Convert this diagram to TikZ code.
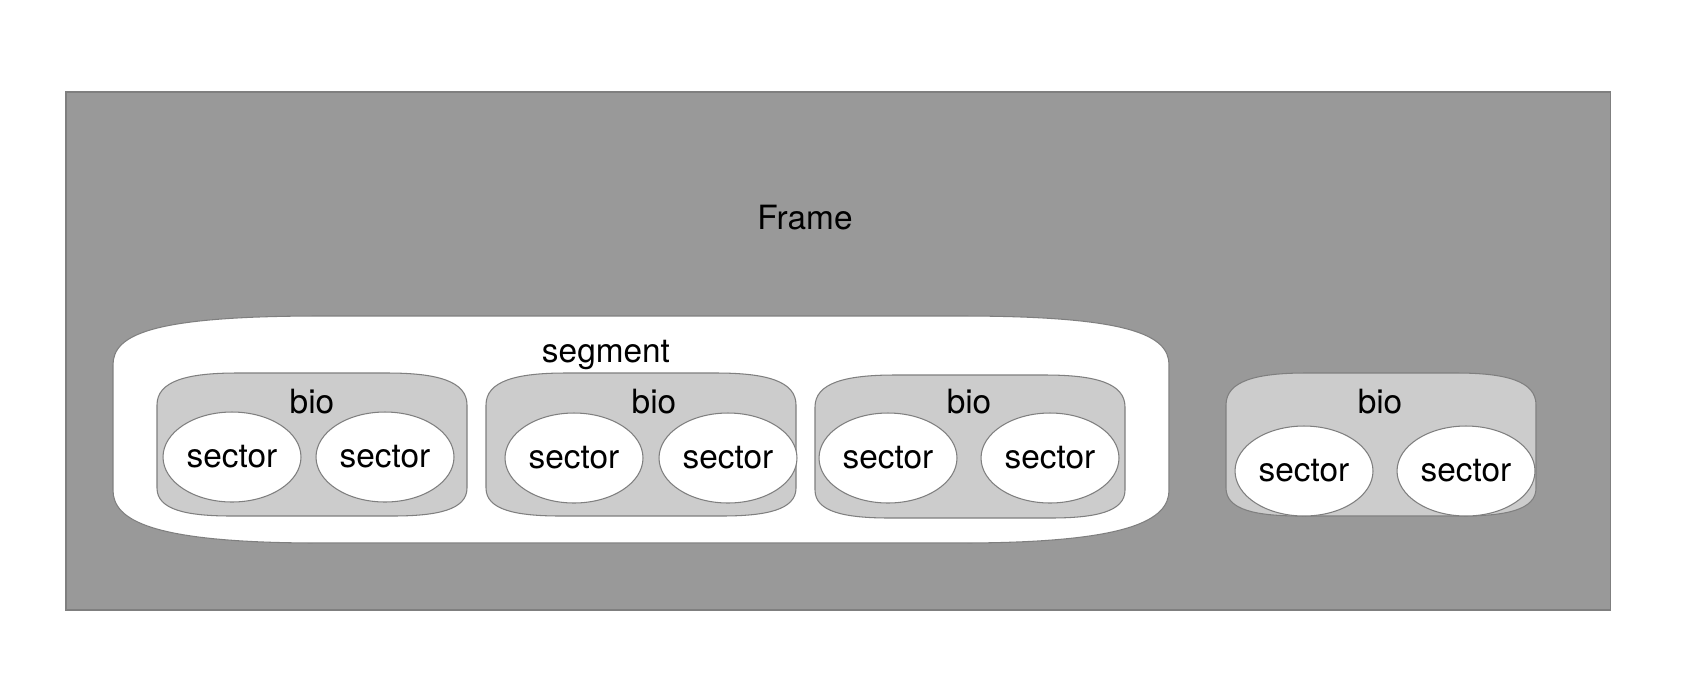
\documentclass[tikz,border=0pt]{standalone}
\usepackage{fontspec}
\setmainfont{TeX Gyre Heros}
\usepackage{tikz}
\usetikzlibrary{shapes.geometric}

\definecolor{framegray}{HTML}{999999}
\definecolor{biogray}{HTML}{CCCCCC}
\definecolor{edgegray}{HTML}{7F7F7F}

% rounded bio container, #1,#2 = top left corner
\newcommand{\bioshape}[2]{%
  \draw[biobox, shift={(#1,#2)}] (0,32) .. controls (0,8) and (30,0) .. (80,0) -- (230,0)
    .. controls (280,0) and (310,8) .. (310,32) -- (310,115)
    .. controls (310,137) and (280,143) .. (235,143) -- (75,143)
    .. controls (30,143) and (0,137) .. (0,115) -- cycle;
}

\begin{document}
\begin{tikzpicture}[x=0.02cm, y=-0.02cm,
    every node/.style={font=\fontsize{19}{23}\selectfont},
    sector/.style={ellipse, draw=edgegray, fill=white, line width=0.6pt,
      minimum width=2.76cm, minimum height=1.8cm, inner sep=0pt},
    biobox/.style={draw=edgegray, fill=biogray, line width=0.6pt},
    boxtitle/.style={inner sep=0pt}]
    \useasboundingbox (0,0) rectangle (1692,694);

    % Frame
    \draw[fill=framegray, draw=edgegray, line width=0.6pt] (66,92) rectangle (1610,610);
    \node[boxtitle] (frame) at (805,218) {Frame};

    % Segment
    \draw[fill=white, draw=edgegray, line width=0.6pt]
      (113,365) .. controls (113,335) and (150,316) .. (320,316) -- (960,316)
      .. controls (1130,316) and (1169,335) .. (1169,365) -- (1169,490)
      .. controls (1169,520) and (1130,543) .. (960,543) -- (320,543)
      .. controls (150,543) and (113,520) .. (113,490) -- cycle;
    \node[boxtitle] (segment) at (606,355) {segment};

    % bio 1
    \bioshape{157}{373}
    \node[boxtitle] (bioA) at (312,402) {bio};
    \node[sector] (secA1) at (232,457) {sector};
    \node[sector] (secA2) at (385,457) {sector};

    % bio 2
    \bioshape{486}{373}
    \node[boxtitle] (bioB) at (654,402) {bio};
    \node[sector] (secB1) at (574,458) {sector};
    \node[sector] (secB2) at (728,458) {sector};

    % bio 3
    \bioshape{815}{375}
    \node[boxtitle] (bioC) at (969,402) {bio};
    \node[sector] (secC1) at (888,458) {sector};
    \node[sector] (secC2) at (1050,458) {sector};

    % bio 4
    \bioshape{1226}{373}
    \node[boxtitle] (bioD) at (1380,402) {bio};
    \node[sector] (secD1) at (1304,471) {sector};
    \node[sector] (secD2) at (1466,471) {sector};
\end{tikzpicture}
\end{document}
